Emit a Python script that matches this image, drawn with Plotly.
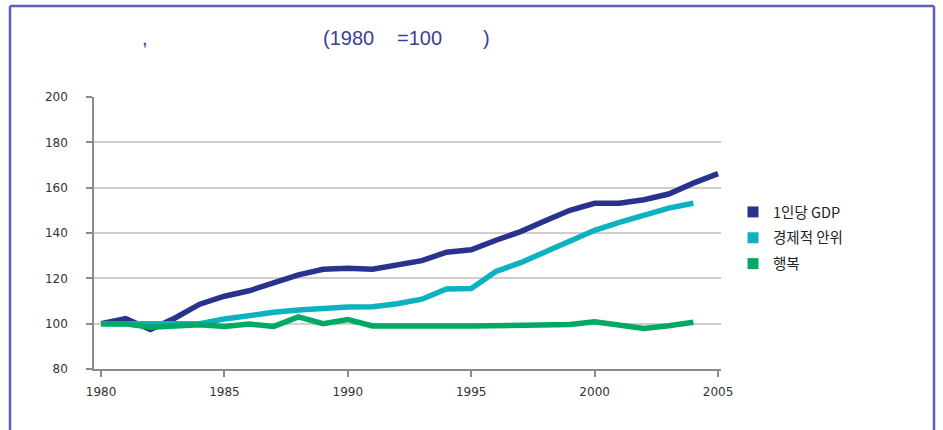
import plotly.graph_objects as go

# 1980 = 100 기준 지수
years = list(range(1980, 2006))
gdp_per_capita = [100, 102.2, 97.4, 102.5, 108.6, 112.1, 114.5, 117.8, 121.5, 124.0,
                  124.5, 124.0, 126.2, 127.8, 131.5, 132.6, 136.8, 140.6, 145.4, 150.0,
                  153.1, 153.1, 154.7, 157.2, 162.0, 166.2]
economic_security = [100, 100, 100, 100, 100, 102.1, 103.7, 105.0, 106.0, 106.8,
                     107.4, 107.5, 108.8, 110.8, 115.3, 115.5, 123.0, 126.9, 131.5, 136.4,
                     141.2, 144.7, 148.1, 151.0, 153.1]
happiness = [100, 99.9, 98.4, 99.1, 99.5, 98.8, 99.8, 98.8, 103.0, 100.0,
             101.8, 99.0, 99.2, 99.1, 99.0, 99.0, 99.0, 99.0, 99.0, 99.6,
             100.8, 99.3, 97.9, 99.1, 100.6]

series_names = ['1인당 GDP', '경제적 안위', '행복']
series_colors = ['#29338e', '#0cb1c2', '#00a964']
series_values = [gdp_per_capita, economic_security, happiness]

W, H = 943, 430
L, R, T, B = 94, 721, 97, 369


def px(x):
    return (x - L) / (R - L)


def py(y):
    return (B - y) / (B - T)


fig = go.Figure()

for name, color, vals in zip(series_names, series_colors, series_values):
    fig.add_trace(go.Scatter(
        x=years[:len(vals)], y=vals, mode='lines', name=name,
        line=dict(color=color, width=5.5), showlegend=False,
    ))

# legend entries with square swatches
for i, (name, color) in enumerate(zip(series_names, series_colors)):
    fig.add_trace(go.Scatter(
        x=[None], y=[None], mode='markers', name=name, legendgroup=f'g{i}',
        marker=dict(symbol='square', size=11, color=color),
    ))

tick_font = dict(family='DejaVu Sans, sans-serif', size=12, color='#333333')

fig.update_layout(
    width=W, height=H,
    margin=dict(l=L, r=W - R, t=T, b=H - B),
    paper_bgcolor='white', plot_bgcolor='white',
    legend=dict(
        x=px(733), y=py(196), xanchor='left', yanchor='top',
        font=dict(family='Noto Sans CJK KR, Noto Sans, sans-serif', size=14.5, color='#222222'),
        tracegroupgap=4, itemwidth=30, bgcolor='rgba(0,0,0,0)',
    ),
    xaxis=dict(
        range=[1979.716, 2005.12], tickmode='array', tickvals=[1980, 1985, 1990, 1995, 2000, 2005],
        showgrid=False, zeroline=False, showline=True, linecolor='#8a8a8a', linewidth=1.5,
        ticks='outside', ticklen=6, tickcolor='#8a8a8a', tickwidth=1.5,
        tickfont=tick_font, ticklabelstandoff=5,
    ),
    yaxis=dict(
        range=[80, 200], tickmode='array', tickvals=[80, 100, 120, 140, 160, 180, 200],
        showgrid=True, gridcolor='#cfcfcf', gridwidth=1.5, zeroline=False,
        showline=True, linecolor='#8a8a8a', linewidth=1.5,
        ticks='outside', ticklen=6, tickcolor='#8a8a8a', tickwidth=1.5,
        tickfont=tick_font, ticklabelstandoff=16,
    ),
)

# frame around the figure (left, top, right edges)
frame = dict(color='#5a61b6', width=2.5)
fig.add_shape(type='line', xref='paper', yref='paper', x0=px(10), x1=px(10), y0=py(445), y1=py(6), line=frame)
fig.add_shape(type='line', xref='paper', yref='paper', x0=px(10), x1=px(934), y0=py(6), y1=py(6), line=frame)
fig.add_shape(type='line', xref='paper', yref='paper', x0=px(934), x1=px(934), y0=py(445), y1=py(6), line=frame)

# title (only the glyphs that survive in the source)
title_font = dict(family='Liberation Sans, Arial, sans-serif', size=20, color='#3a3f96')
for text, xpos in [(',', 140), ('(1980', 321), ('=100', 395), (')', 481)]:
    fig.add_annotation(text=text, xref='paper', yref='paper', x=px(xpos), y=py(38),
                       xanchor='left', yanchor='middle', showarrow=False, font=title_font)

fig.write_html('out.html', config={'displayModeBar': False},
               post_script="document.body.style.margin='0';document.body.style.overflow='hidden';")
